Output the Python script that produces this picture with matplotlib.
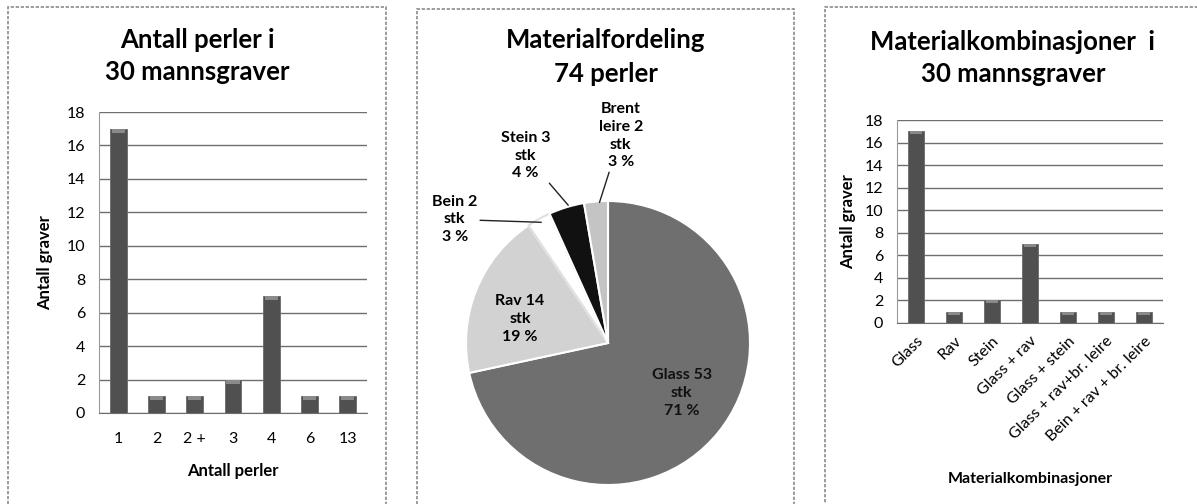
import matplotlib.pyplot as plt
from matplotlib.patches import Rectangle

plt.rcParams["font.family"] = ["Lato", "DejaVu Sans"]

# chart 1: number of beads per grave
perler_labels = ["1", "2", "2 +", "3", "4", "6", "13"]
perler_counts = [17, 1, 1, 2, 7, 1, 1]

# chart 2: material distribution of 74 beads
material_names = ["Glass 53\nstk\n71 %", "Rav 14\nstk\n19 %", "Bein 2\nstk\n3 %",
                  "Stein 3\nstk\n4 %", "Brent\nleire 2\nstk\n3 %"]
material_counts = [53, 14, 2, 3, 2]

# chart 3: material combinations
kombi_labels = ["Glass", "Rav", "Stein", "Glass + rav", "Glass + stein",
                "Glass + rav+br. leire", "Bein + rav + br. leire"]
kombi_counts = [17, 1, 2, 7, 1, 1, 1]

W, H = 1197, 504
BAR = "#505050"
GRID = "#6e6e6e"


def fig_rect(x0, y0, x1, y1):
    return [x0 / W, 1 - y1 / H, (x1 - x0) / W, (y1 - y0) / H]


def panel_border(fig, x0, y0, x1, y1):
    fig.patches.append(Rectangle((x0 / W, 1 - y1 / H), (x1 - x0) / W, (y1 - y0) / H,
                                 transform=fig.transFigure, fill=False,
                                 edgecolor="#8c8c8c", linewidth=1.2,
                                 linestyle=(0, (2, 1))))


def bar_panel(ax, labels, values):
    x = range(len(values))
    ax.bar(x, values, width=0.44, color=BAR, edgecolor="#6a6a6a", linewidth=0.6, zorder=3)
    ax.bar(x, [0.25] * len(values), bottom=[v - 0.25 for v in values], width=0.34,
           color="#8a8a8a", zorder=4)
    ax.set_xlim(-0.5, len(values) - 0.5)
    ax.set_ylim(0, 18)
    ax.set_yticks(range(0, 19, 2))
    ax.set_xticks(list(x))
    ax.yaxis.grid(True, color=GRID, linewidth=1.0, zorder=0)
    for s in ["top", "right"]:
        ax.spines[s].set_visible(False)
    ax.spines["left"].set_color("#9a9a9a")
    ax.spines["bottom"].set_color("#6e6e6e")
    ax.tick_params(axis="y", length=0, labelsize=11.5, pad=10)
    ax.tick_params(axis="x", length=0, labelsize=11.5)


fig = plt.figure(figsize=(W / 100, H / 100), dpi=100)

panel_border(fig, 8, 7, 386, 520)
panel_border(fig, 417, 9, 794, 520)
panel_border(fig, 825, 7, 1210, 520)

# chart 1
ax1 = fig.add_axes(fig_rect(99, 112, 367, 413))
bar_panel(ax1, perler_labels, perler_counts)
ax1.set_xticklabels(perler_labels)
ax1.tick_params(axis="x", pad=14)
ax1.set_ylabel("Antall graver", fontsize=12, fontweight="bold", labelpad=10)
ax1.set_xlabel("Antall perler", fontsize=12, fontweight="bold", labelpad=12)
fig.text(197 / W, 1 - 56 / H, "Antall perler i\n30 mannsgraver", ha="center", va="center",
         fontsize=18.5, fontweight="bold", linespacing=1.45)

# chart 2
ax2 = fig.add_axes(fig_rect(608 - 142, 343 - 142, 608 + 142, 343 + 142))
wedges, _ = ax2.pie(material_counts, startangle=90, counterclock=False,
                    colors=["#6f6f6f", "#d2d2d2", "#ffffff", "#111111", "#c4c4c4"],
                    wedgeprops={"edgecolor": "white", "linewidth": 1.5, "clip_on": False})
wedges[2].set_edgecolor("#e0e0e0")
ax2.set_xlim(-1, 1)
ax2.set_ylim(-1, 1)
ax2.set_aspect("auto")
ax2.axis("off")
lab_kw = dict(ha="center", va="center", fontsize=11.5, fontweight="bold", linespacing=1.35)
ax2.text(0.52, -0.35, material_names[0], color="#111111", **lab_kw)
ax2.text(-0.62, 0.17, material_names[1], **lab_kw)
line_kw = dict(arrowstyle="-", color="#222222", lw=1.0, shrinkA=0, shrinkB=0)
ax2.annotate(material_names[2], xy=(-0.47, 0.85), xytext=(-1.08, 0.87),
             arrowprops=line_kw, **lab_kw)
ax2.annotate(material_names[3], xy=(-0.28, 0.97), xytext=(-0.58, 1.32),
             arrowprops=line_kw, **lab_kw)
ax2.annotate(material_names[4], xy=(-0.06, 0.99), xytext=(0.09, 1.46),
             arrowprops=line_kw, **lab_kw)
fig.text(606 / W, 1 - 57 / H, "Materialfordeling\n74 perler", ha="center", va="center",
         fontsize=18.5, fontweight="bold", linespacing=1.45)

# chart 3
ax3 = fig.add_axes(fig_rect(897, 120, 1163, 323))
bar_panel(ax3, kombi_labels, kombi_counts)
ax3.set_xticklabels(kombi_labels, rotation=45, ha="right", rotation_mode="anchor")
ax3.tick_params(axis="x", pad=8)
ax3.set_ylabel("Antall graver", fontsize=12, fontweight="bold", labelpad=6)
ax3.set_xlabel("Materialkombinasjoner", fontsize=11.5, fontweight="bold", labelpad=20)
fig.text(1013 / W, 1 - 58 / H, "Materialkombinasjoner  i\n30 mannsgraver", ha="center",
         va="center", fontsize=18.5, fontweight="bold", linespacing=1.45)

fig.savefig("out.png", dpi=100)
